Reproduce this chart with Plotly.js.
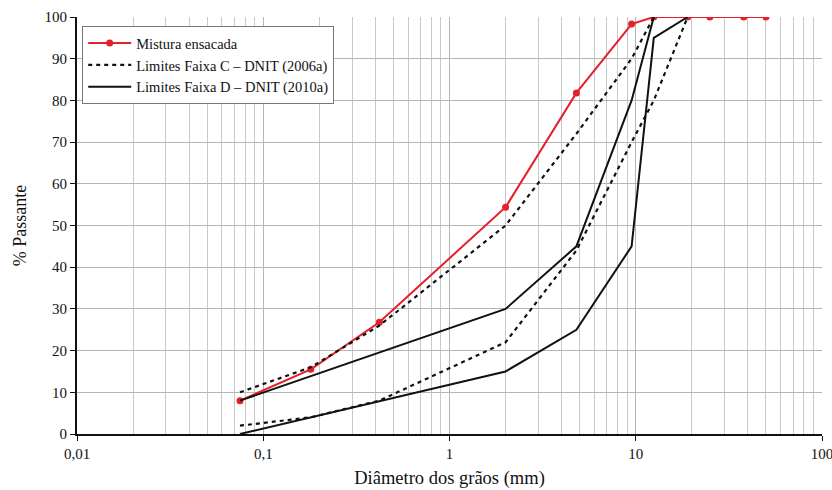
<!DOCTYPE html>
<html>
<head>
<meta charset="utf-8">
<script src="https://cdn.plot.ly/plotly-3.0.1.min.js"></script>
<style>
  html, body { margin: 0; padding: 0; background: #fff; }
  #chart { width: 832px; height: 490px; }
</style>
</head>
<body>
<div id="chart"></div>
<script>
// Sieve openings (mm) and percent passing for the bagged mixture
const misturaDiam = [0.075, 0.18, 0.42, 2.0, 4.8, 9.5, 12.5, 19, 25, 38, 50];
const misturaPass = [8, 15.5, 26.8, 54.4, 81.8, 98.3, 100, 100, 100, 100, 100];

// DNIT Faixa C limits (2006a)
const faixaCSupDiam = [0.075, 0.18, 0.42, 2.0, 4.8, 9.5, 12.5];
const faixaCSupPass = [10, 16, 26, 50, 72, 90, 100];
const faixaCInfDiam = [0.075, 0.18, 0.42, 2.0, 4.8, 9.5, 12.5, 19];
const faixaCInfPass = [2, 4, 8, 22, 44, 70, 80, 100];

// DNIT Faixa D limits (2010a)
const faixaDSupDiam = [0.075, 2.0, 4.8, 9.5, 12.5];
const faixaDSupPass = [8, 30, 45, 80, 100];
const faixaDInfDiam = [0.075, 2.0, 4.8, 9.5, 12.5, 19];
const faixaDInfPass = [0, 15, 25, 45, 95, 100];

// Axis tick labels (decimal comma)
const xTickVals = [0.01, 0.1, 1, 10, 100];
const xTickText = ['0,01', '0,1', '1', '10', '100'];
const yTickVals = [0, 10, 20, 30, 40, 50, 60, 70, 80, 90, 100];

const serif = 'Liberation Serif, Times New Roman, serif';

const traces = [
  {
    x: misturaDiam, y: misturaPass, type: 'scatter', mode: 'lines+markers',
    name: 'Mistura ensacada',
    line: { color: '#e3202b', width: 2 },
    marker: { color: '#e3202b', size: 7 }
  },
  {
    x: faixaCSupDiam, y: faixaCSupPass, type: 'scatter', mode: 'lines',
    name: 'Limites Faixa C – DNIT (2006a)', legendgroup: 'c',
    line: { color: '#111', width: 2.2, dash: '4px,4px' }
  },
  {
    x: faixaCInfDiam, y: faixaCInfPass, type: 'scatter', mode: 'lines',
    name: 'Limites Faixa C – DNIT (2006a)', legendgroup: 'c', showlegend: false,
    line: { color: '#111', width: 2.2, dash: '4px,4px' }
  },
  {
    x: faixaDSupDiam, y: faixaDSupPass, type: 'scatter', mode: 'lines',
    name: 'Limites Faixa D – DNIT (2010a)', legendgroup: 'd',
    line: { color: '#111', width: 2 }
  },
  {
    x: faixaDInfDiam, y: faixaDInfPass, type: 'scatter', mode: 'lines',
    name: 'Limites Faixa D – DNIT (2010a)', legendgroup: 'd', showlegend: false,
    line: { color: '#111', width: 2 }
  }
];

const layout = {
  width: 832, height: 490,
  margin: { l: 77, r: 10, t: 17, b: 56 },
  paper_bgcolor: '#fff', plot_bgcolor: '#fff',
  font: { family: serif, size: 15, color: '#111' },
  showlegend: true,
  legend: {
    x: 0.007, y: 0.978, xanchor: 'left', yanchor: 'top',
    bgcolor: '#fff', bordercolor: '#777', borderwidth: 1,
    font: { family: serif, size: 14.5, color: '#111' },
    tracegroupgap: 0, itemwidth: 43
  },
  xaxis: {
    type: 'log', range: [-2, 2], automargin: false,
    tickvals: xTickVals, ticktext: xTickText, ticklabeloverflow: 'allow',
    tickfont: { family: serif, size: 15 },
    ticks: 'outside', ticklen: 5, tickcolor: '#111',
    showline: true, linecolor: '#111', linewidth: 2,
    showgrid: true, gridcolor: '#b5b5b5', gridwidth: 1,
    minor: { dtick: 'D1', showgrid: true, gridcolor: '#c8c8c8', gridwidth: 1, ticks: '' },
    zeroline: false,
    title: { text: 'Diâmetro dos grãos (mm)', font: { family: serif, size: 18.5 }, standoff: 10 }
  },
  yaxis: {
    range: [0, 100], tickvals: yTickVals, automargin: false,
    tickfont: { family: serif, size: 15 },
    ticks: 'outside', ticklen: 5, tickcolor: '#111',
    showline: true, linecolor: '#111', linewidth: 2,
    showgrid: true, gridcolor: '#b5b5b5', gridwidth: 1,
    zeroline: false,
    title: { text: '% Passante', font: { family: serif, size: 18 }, standoff: 13 }
  }
};

Plotly.newPlot('chart', traces, layout, { displayModeBar: false, staticPlot: true });
</script>
</body>
</html>
